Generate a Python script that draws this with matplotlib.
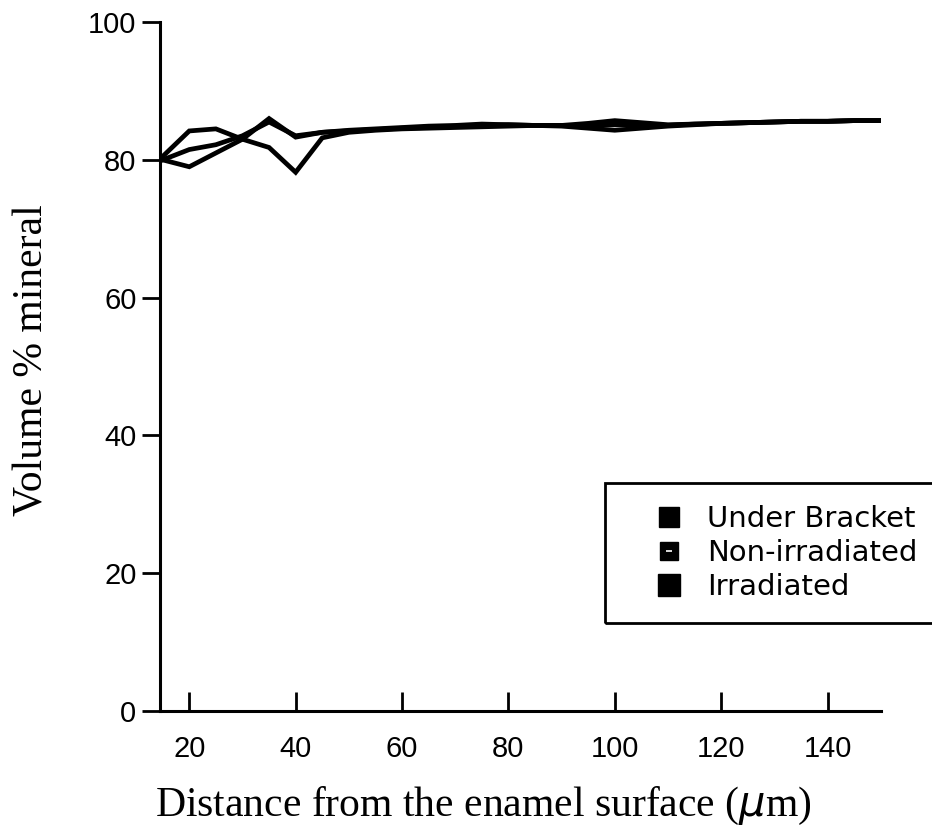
import numpy as np
import matplotlib
matplotlib.use("Agg")
import matplotlib.pyplot as plt
from matplotlib.lines import Line2D
from matplotlib.patches import Rectangle
from matplotlib.legend_handler import HandlerTuple

# distance from enamel surface (um)
distance = [15, 20, 25, 30, 35, 40, 45, 50, 55, 60, 65, 70, 75, 80,
            85, 90, 95, 100, 105, 110, 115, 120, 125, 130, 135, 140, 145, 150]

# volume % mineral
under_bracket = [80.5, 84.2, 84.5, 83.0, 81.8, 78.2, 83.2, 84.0, 84.3, 84.5, 84.6, 84.7, 84.8, 84.9,
                 85.0, 85.0, 85.3, 85.7, 85.4, 85.1, 85.2, 85.3, 85.4, 85.5, 85.6, 85.6, 85.7, 85.7]
non_irradiated = [80.0, 81.5, 82.2, 83.5, 85.5, 83.5, 84.0, 84.2, 84.4, 84.6, 84.7, 84.9, 85.0, 85.1,
                  85.0, 85.0, 85.0, 85.1, 85.0, 85.0, 85.2, 85.3, 85.4, 85.5, 85.6, 85.6, 85.7, 85.7]
irradiated = [80.0, 79.0, 81.0, 83.0, 86.0, 83.3, 84.0, 84.3, 84.5, 84.7, 84.9, 85.0, 85.2, 85.1,
              85.0, 84.9, 84.6, 84.3, 84.6, 84.9, 85.1, 85.3, 85.4, 85.5, 85.6, 85.6, 85.7, 85.7]

labels = ['Under Bracket', 'Non-irradiated', 'Irradiated']
xticks = [20, 40, 60, 80, 100, 120, 140]
yticks = [0, 20, 40, 60, 80, 100]

tick_font = ['Liberation Sans', 'DejaVu Sans']
legend_font = ['DejaVu Sans']
serif = ['Liberation Serif', 'DejaVu Serif']

fig = plt.figure(figsize=(9.32, 8.34), dpi=100)
ax = fig.add_axes([0.1717, 0.1475, 0.7733, 0.826])

for ys in (under_bracket, non_irradiated, irradiated):
    ax.plot(distance, ys, color='black', lw=3.4, solid_joinstyle='miter')

ax.set_xlim(14.5, 150)
ax.set_ylim(0, 100)
ax.spines['top'].set_visible(False)
ax.spines['right'].set_visible(False)
ax.spines['left'].set_linewidth(2.2)
ax.spines['bottom'].set_linewidth(2.2)
ax.set_xticks(xticks)
ax.set_yticks(yticks)
ax.tick_params(axis='x', direction='in', length=14, width=2, pad=17)
ax.tick_params(axis='y', direction='out', length=13, width=2, pad=4)
for t in ax.get_xticklabels() + ax.get_yticklabels():
    t.set_family(tick_font)
    t.set_fontsize(21)

ax.set_xlabel('Distance from the enamel surface ($\\mu$m)', family=serif, fontsize=30)
ax.set_ylabel('Volume % mineral', family=serif, fontsize=30)
ax.xaxis.set_label_coords(0.448, -0.107)
ax.yaxis.set_label_coords(-0.15, 0.51)

h1 = Line2D([], [], ls='none', marker='s', ms=14, color='black')
h2a = Line2D([], [], ls='none', marker='s', ms=13, color='black')
h2b = Line2D([], [], ls='none', marker='_', ms=5, mew=1.2, color='white')
h3 = Line2D([], [], ls='none', marker='s', ms=16, color='black')
leg = fig.legend([h1, (h2a, h2b), h3], labels, loc='upper left',
                 bbox_to_anchor=(0.705, 0.394), handler_map={tuple: HandlerTuple(ndivide=1)},
                 prop={'family': legend_font, 'size': 21}, frameon=False,
                 borderpad=0, labelspacing=0.2, handlelength=0.8,
                 handletextpad=0.9, borderaxespad=0)

# legend box runs off the right edge of the page
fig.patches.append(Rectangle((0.649, 0.253), 0.4, 0.168, transform=fig.transFigure,
                             facecolor='none', edgecolor='black', lw=2))

fig.savefig('out.png', dpi=100)
